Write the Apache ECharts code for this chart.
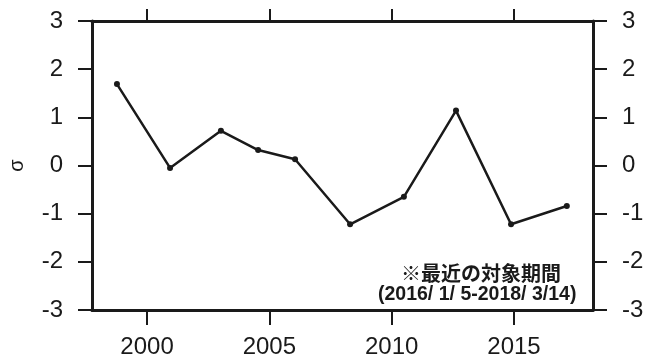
<!DOCTYPE html>
<html>
<head>
<meta charset="utf-8">
<script src="https://cdn.jsdelivr.net/npm/echarts@6/dist/echarts.min.js"></script>
<style>
  html, body { margin: 0; padding: 0; background: #fff; }
  #main { width: 645px; height: 359px; }
</style>
</head>
<body>
<div id="main"></div>
<script>
// period midpoints (year) and sigma values
var years = [1998.77, 2000.94, 2003.02, 2004.54, 2006.05, 2008.30, 2010.50, 2012.63, 2014.88, 2017.16];
var sigma = [1.69, -0.05, 0.72, 0.32, 0.13, -1.22, -0.65, 1.14, -1.22, -0.84];
var yearTicks = [2000, 2005, 2010, 2015];
var noteLines = ['※最近の対象期間', '(2016/ 1/ 5-2018/ 3/14)'];

var myChart = echarts.init(document.getElementById('main'));
var ink = '#1a1a1a';
var font = 'Liberation Sans, Arial, sans-serif';

var points = years.map(function (y, i) { return [y, sigma[i]]; });

var yBase = {
    type: 'value',
    min: -3,
    max: 3,
    interval: 1,
    splitLine: { show: false },
    axisLine: { show: true, lineStyle: { color: ink, width: 3 } },
    axisTick: { show: true, inside: false, length: 14, lineStyle: { color: ink, width: 2 } },
    axisLabel: { color: ink, fontSize: 24, fontFamily: font, margin: 29 }
};

var option = {
    backgroundColor: '#fff',
    animation: false,
    grid: { left: 92, right: 52, top: 21, bottom: 49, show: false, containLabel: false, outerBoundsMode: 'none' },
    xAxis: [{
        type: 'value',
        position: 'bottom',
        min: 1997.75,
        max: 2018.23,
        splitLine: { show: false },
        axisLine: { show: true, onZero: false, lineStyle: { color: ink, width: 3 } },
        axisTick: { show: true, length: 15, customValues: yearTicks, lineStyle: { color: ink, width: 2 } },
        axisLabel: { color: ink, fontSize: 24, fontFamily: font, margin: 25, customValues: yearTicks,
            formatter: function (v) { return String(Math.round(v)); } }
    }, {
        type: 'value',
        position: 'top',
        min: 1997.75,
        max: 2018.23,
        splitLine: { show: false },
        axisLine: { show: true, onZero: false, lineStyle: { color: ink, width: 3 } },
        axisTick: { show: true, length: 12, customValues: yearTicks, lineStyle: { color: ink, width: 2 } },
        axisLabel: { show: false }
    }],
    yAxis: [
        Object.assign({}, yBase, {
            position: 'left',
            name: 'σ',
            nameLocation: 'middle',
            nameRotate: 90,
            nameGap: 65,
            nameTextStyle: { color: ink, fontSize: 20, fontFamily: font }
        }),
        Object.assign({}, yBase, { position: 'right' })
    ],
    series: [{
        type: 'line',
        data: points,
        symbol: 'circle',
        symbolSize: 6,
        itemStyle: { color: ink },
        lineStyle: { color: ink, width: 2.5 }
    }],
    graphic: [{
        type: 'text',
        left: 401,
        top: 263,
        style: { text: noteLines[0], fill: ink, font: 'bold 20px "Noto Sans CJK JP", sans-serif' }
    }, {
        type: 'text',
        left: 378,
        top: 285,
        style: { text: noteLines[1], fill: ink, font: 'bold 19.5px ' + font }
    }]
};

option && myChart.setOption(option);
</script>
</body>
</html>
